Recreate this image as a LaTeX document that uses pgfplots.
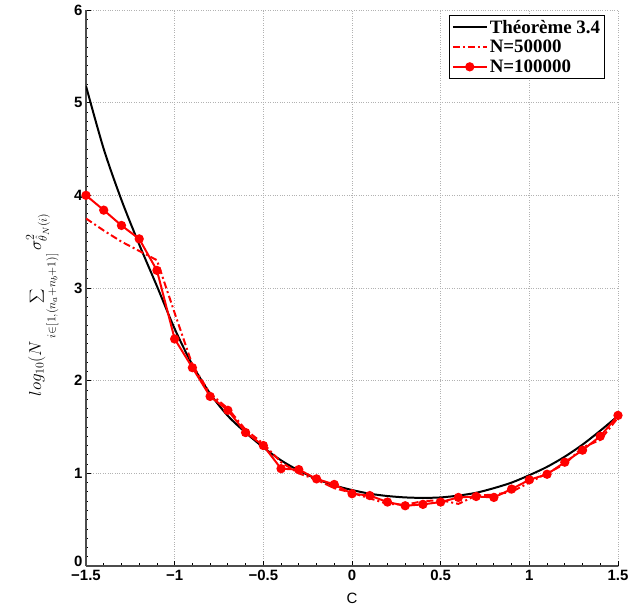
\documentclass[border=0pt]{standalone}
\usepackage{pgfplots}
\pgfplotsset{compat=1.18}
\usetikzlibrary{calc}
\usepackage{fontspec}
\setmainfont{Liberation Serif}
\setsansfont{Liberation Sans}

\pgfplotstableread{
x y
-1.5 5.18
-1.4 4.50
-1.3 3.95
-1.2 3.47
-1.1 3.02
-1.0 2.56
-0.9 2.17
-0.8 1.86
-0.7 1.62
-0.6 1.44
-0.5 1.28
-0.4 1.14
-0.3 1.03
-0.2 0.94
-0.1 0.87
0.0 0.82
0.1 0.78
0.2 0.755
0.3 0.74
0.4 0.735
0.5 0.74
0.6 0.76
0.7 0.79
0.8 0.84
0.9 0.90
1.0 0.98
1.1 1.07
1.2 1.18
1.3 1.31
1.4 1.46
1.5 1.62
}\theo

\pgfplotstableread{
x y
-1.5 3.75
-1.4 3.62
-1.3 3.50
-1.2 3.40
-1.1 3.30
-1.0 2.73
-0.9 2.17
-0.8 1.86
-0.7 1.70
-0.6 1.47
-0.5 1.32
-0.4 1.12
-0.3 1.00
-0.2 0.93
-0.1 0.84
0.0 0.79
0.1 0.73
0.2 0.67
0.3 0.66
0.4 0.70
0.5 0.71
0.6 0.67
0.7 0.76
0.8 0.77
0.9 0.80
1.0 0.90
1.1 1.00
1.2 1.10
1.3 1.28
1.4 1.36
1.5 1.60
}\nfifty

\pgfplotstableread{
x y
-1.5 4.00
-1.4 3.84
-1.3 3.675
-1.2 3.53
-1.1 3.19
-1.0 2.45
-0.9 2.14
-0.8 1.83
-0.7 1.68
-0.6 1.44
-0.5 1.30
-0.4 1.05
-0.3 1.04
-0.2 0.94
-0.1 0.88
0.0 0.78
0.1 0.76
0.2 0.69
0.3 0.65
0.4 0.665
0.5 0.69
0.6 0.74
0.7 0.75
0.8 0.74
0.9 0.83
1.0 0.93
1.1 0.99
1.2 1.12
1.3 1.25
1.4 1.40
1.5 1.625
}\nhundred

\begin{document}
\begin{tikzpicture}
\begin{axis}[
  scale only axis, width=532bp, height=556bp,
  xmin=-1.5, xmax=1.5, ymin=0, ymax=6,
  axis x line*=bottom, axis y line*=left,
  axis line style={gray!60!black, line width=1.2pt, -},
  xtick={-1.5,-1,-0.5,0,0.5,1,1.5},
  xticklabels={−1.5,−1,−0.5,0,0.5,1,1.5},
  ytick={0,1,2,3,4,5,6},
  yticklabels={\raisebox{-0.5bp}[0pt][0pt]{0},1,2,3,4,5,6},
  tick label style={font=\sffamily\bfseries\fontsize{15}{18}\selectfont},
  xticklabel style={yshift=-1bp},
  grid=major, grid style={gray!60, dotted, line width=0.9pt},
  tick align=inside, major tick length=5bp, minor tick length=2.5bp,
  tick style={black, line width=0.8pt},
  minor x tick num=4, minor y tick num=9,
  xlabel={C}, xlabel style={font=\sffamily\fontsize{15}{18}\selectfont, yshift=-5bp},
  ylabel={$log_{10}(N\displaystyle\sum_{i\in[1,(n_a+n_b+1)]}\sigma^2_{\hat{\theta}_N(i)}$},
  ylabel style={font=\fontsize{17.5}{20}\selectfont, at={(ticklabel cs:0.47)}},
  ylabel shift=8bp,
  legend style={at={(rel axis cs:0.976,0.991)}, anchor=north east,
    font=\bfseries\fontsize{19}{21}\selectfont, draw=black, line width=1.2pt,
    fill=white, inner sep=2.5bp, row sep=1.5bp, cells={anchor=west}},
  legend image code/.code={\draw[mark repeat=2,mark phase=2] plot coordinates {(0bp,0bp)(17bp,0bp)(34bp,0bp)};},
]
\addplot[black, line width=2pt, smooth, tension=0.5] table[x=x,y=y]{\theo};
\addlegendentry{Théorème 3.4}
\addplot[red, line width=2pt, dash pattern=on 7bp off 3bp on 2bp off 3bp] table[x=x,y=y]{\nfifty};
\addlegendentry{N=50000}
\addplot[red, line width=2pt, mark=*, mark size=3.6bp, mark options={solid}] table[x=x,y=y]{\nhundred};
\addlegendentry{N=100000}
\end{axis}
\pgfresetboundingbox
\path ($(current axis.south west)+(-86bp,-40bp)$) rectangle ($(current axis.north east)+(12bp,10bp)$);
\end{tikzpicture}
\end{document}
